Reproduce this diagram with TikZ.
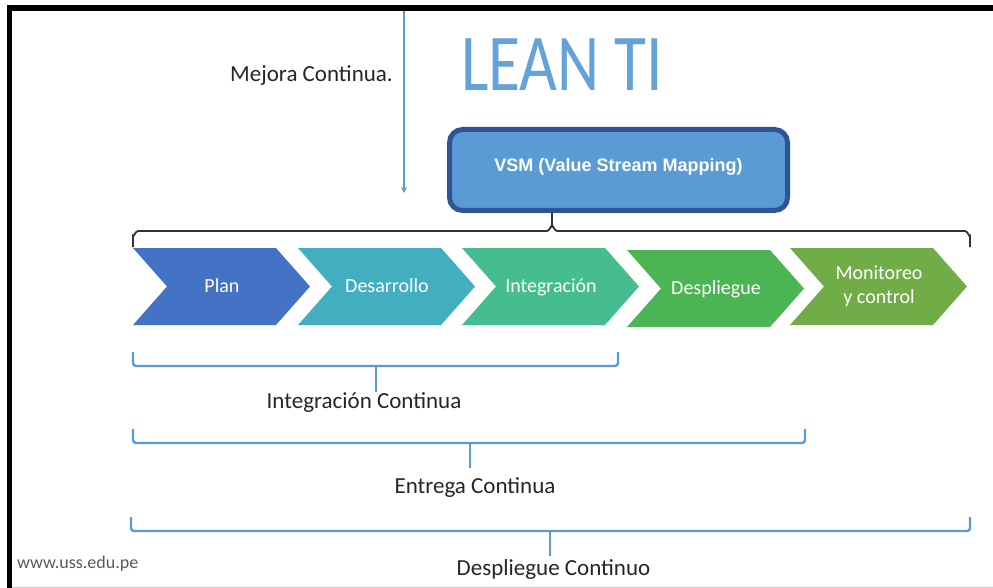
\documentclass[tikz,border=0pt]{standalone}
\usepackage{fontspec}
\usepackage{graphicx}
\setmainfont{Carlito}
\newfontfamily\boxfont{Liberation Sans}
\usetikzlibrary{arrows.meta}

\definecolor{accent}{HTML}{5B9BD5}
\definecolor{titleblue}{HTML}{64A2D8}
\definecolor{vsmedge}{HTML}{2F5597}
\definecolor{inktext}{HTML}{262626}
\definecolor{cPlan}{HTML}{4472C4}
\definecolor{cDes}{HTML}{43AEC0}
\definecolor{cInt}{HTML}{45BD8E}
\definecolor{cDep}{HTML}{4AB552}
\definecolor{cMon}{HTML}{70AD47}

\tikzset{
  lbl/.style={inner sep=0pt, text=inktext, font=\fontsize{23}{27}\selectfont},
  steptext/.style={inner sep=0pt, text=white, font=\fontsize{20}{24}\selectfont},
  bracket/.style={draw=accent, line width=2.4pt, rounded corners=3pt},
  topbrace/.style={draw=black!80, line width=1.8pt},
}

\begin{document}
\begin{tikzpicture}[x=1pt,y=-1pt]
\useasboundingbox (0,0) rectangle (993,588);
\fill[white] (0,0) rectangle (993,588);

% frame
\draw[line width=5.5pt, line join=miter] (9.5,588) -- (9.5,8) -- (993,8);
\draw[black!20, line width=1pt] (12,587) -- (993,587);

% improvement arrow and title
\node[lbl, anchor=base] (mejora) at (311.5,82) {Mejora Continua.};
\coordinate (mtop) at (404,11);
\coordinate (mend) at (404,193);
\draw[accent, line width=1.4pt, -{Stealth[length=6pt,width=6pt]}] (mtop) -- (mend);

\node[inner sep=0pt, anchor=base west, text=titleblue] (lean) at (461,91)
  {\scalebox{1.02}[1.26]{\fontsize{64}{64}\selectfont LEAN TI}};

% value stream mapping box
\node[draw=vsmedge, fill=accent, line width=5pt, rounded corners=13pt,
      minimum width=338pt, minimum height=81pt, inner sep=0pt,
      text=white, font=\boxfont\bfseries\fontsize{18}{20}\selectfont,
      text height=13pt, text depth=10.4pt]
  (vsm) at (618.5,170) {VSM (Value Stream Mapping)};

% brace under the box
\coordinate (btip) at (552,213);
\draw[topbrace] (133,247) -- (133,236) to[out=-90,in=180] (138,231) -- (547,231)
  to[out=0,in=90] (552,226) -- (btip) -- (552,226)
  to[out=90,in=180] (557,231) -- (965,231) to[out=0,in=-90] (970,236) -- (970,247);

% process chevrons
\foreach \x/\c/\dy in {133/cPlan/0, 298/cDes/0, 462/cInt/0, 627/cDep/2, 790/cMon/0}{
  \fill[\c] (\x,248+\dy) -- ++(143,0) -- ++(34,38.5) -- ++(-34,38.5) -- ++(-143,0)
    -- ++(34,-38.5) -- cycle;
}
\node[steptext, anchor=base] (plan) at (222,292) {Plan};
\node[steptext, anchor=base] (des) at (387,292) {Desarrollo};
\node[steptext, anchor=base] (int) at (551,292) {Integración};
\node[steptext, anchor=base] (dep) at (716,294) {Despliegue};
\node[steptext, anchor=base, align=center] (mon) at (879,303) {Monitoreo\\y control};

% practice brackets and labels
\node[lbl, anchor=base] (ci) at (364,408) {Integración Continua};
\node[lbl, anchor=base] (ec) at (475,493) {Entrega Continua};
\node[lbl, anchor=base] (dc) at (553.5,575) {Despliegue Continuo};

\coordinate (ciT) at (376,392);
\coordinate (ecT) at (470,468);
\coordinate (dcT) at (550,556);

\draw[bracket] (133,352) -- (133,366) -- (618,366) -- (618,352);
\draw[accent, line width=2.2pt] (376,366) -- (ciT);
\draw[bracket] (133,429) -- (133,443) -- (805,443) -- (805,429);
\draw[accent, line width=2.2pt] (470,443) -- (ecT);
\draw[bracket] (131,517) -- (131,531) -- (970,531) -- (970,517);
\draw[accent, line width=2.2pt] (550,531) -- (dcT);

\node[inner sep=0pt, anchor=base west, text=black!65, font=\fontsize{18}{20}\selectfont]
  (www) at (17,568) {www.uss.edu.pe};
\end{tikzpicture}
\end{document}
